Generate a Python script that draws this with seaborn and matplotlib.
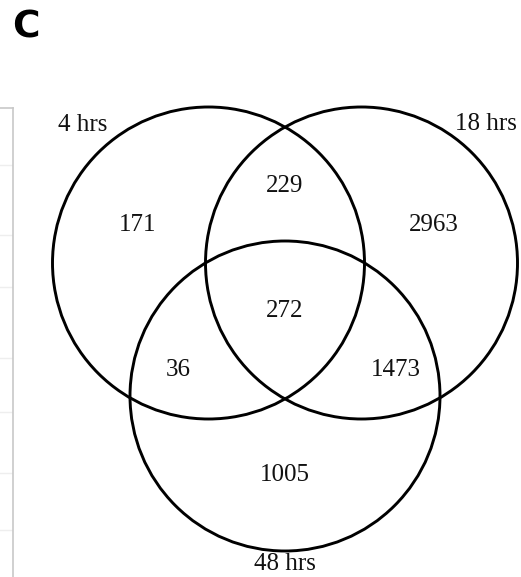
import matplotlib
matplotlib.use("Agg")
import matplotlib.pyplot as plt
from matplotlib.patches import Circle
import seaborn as sns

sns.set_theme(style="white")

# ---- data ----
set_names = ["4 hrs", "18 hrs", "48 hrs"]
region_labels = ["4 only", "18 only", "48 only", "4&18", "4&48", "18&48", "all"]
region_counts = [171, 2963, 1005, 229, 36, 1473, 272]
panel_letter = "C"

W, H = 521, 577
fig = plt.figure(figsize=(W / 100, H / 100), dpi=100)

# fragment of neighbouring panel at left edge
axl = fig.add_axes([-0.2, 0.0, 0.2 + 12.5 / W, 1 - 108 / H])
axl.set_xlim(0, 1)
axl.set_ylim(H, 108)
for y in [165, 235, 287, 358, 412, 473, 530]:
    axl.axhline(y, color="#eeeeee", lw=1)
axl.set_xticks([]); axl.set_yticks([])
for s in axl.spines.values():
    s.set_color("#c8c8c8"); s.set_linewidth(1.2)
axl.spines["bottom"].set_visible(False)

ax = fig.add_axes([0, 0, 1, 1])
ax.set_xlim(0, W)
ax.set_ylim(H, 0)
ax.axis("off")
ax.patch.set_alpha(0)

centers = [(208.5, 263), (361.5, 263), (285, 396)]
radii = [156, 156, 155]
for (cx, cy), r in zip(centers, radii):
    ax.add_patch(Circle((cx, cy), r, fill=False, ec="black", lw=2.1))

pos = {
    "4 only": (138, 225), "18 only": (434, 225), "48 only": (285, 475),
    "4&18": (285, 186), "4&48": (178, 370), "18&48": (396, 370), "all": (285, 311),
}
serif = "Liberation Serif"
for lab, val in zip(region_labels, region_counts):
    x, y = pos[lab]
    ax.text(x, y, str(val), ha="center", va="center", fontsize=18, family=serif, color="#111111")

name_pos = [(83, 125), (486, 124), (285, 564)]
for nm, (x, y) in zip(set_names, name_pos):
    ax.text(x, y, nm, ha="center", va="center", fontsize=18, family=serif, color="#111111")

ax.text(12, 27, panel_letter, ha="left", va="center", fontsize=27, fontweight="bold",
        family="DejaVu Sans", color="black")

fig.savefig("out.png", dpi=100)
